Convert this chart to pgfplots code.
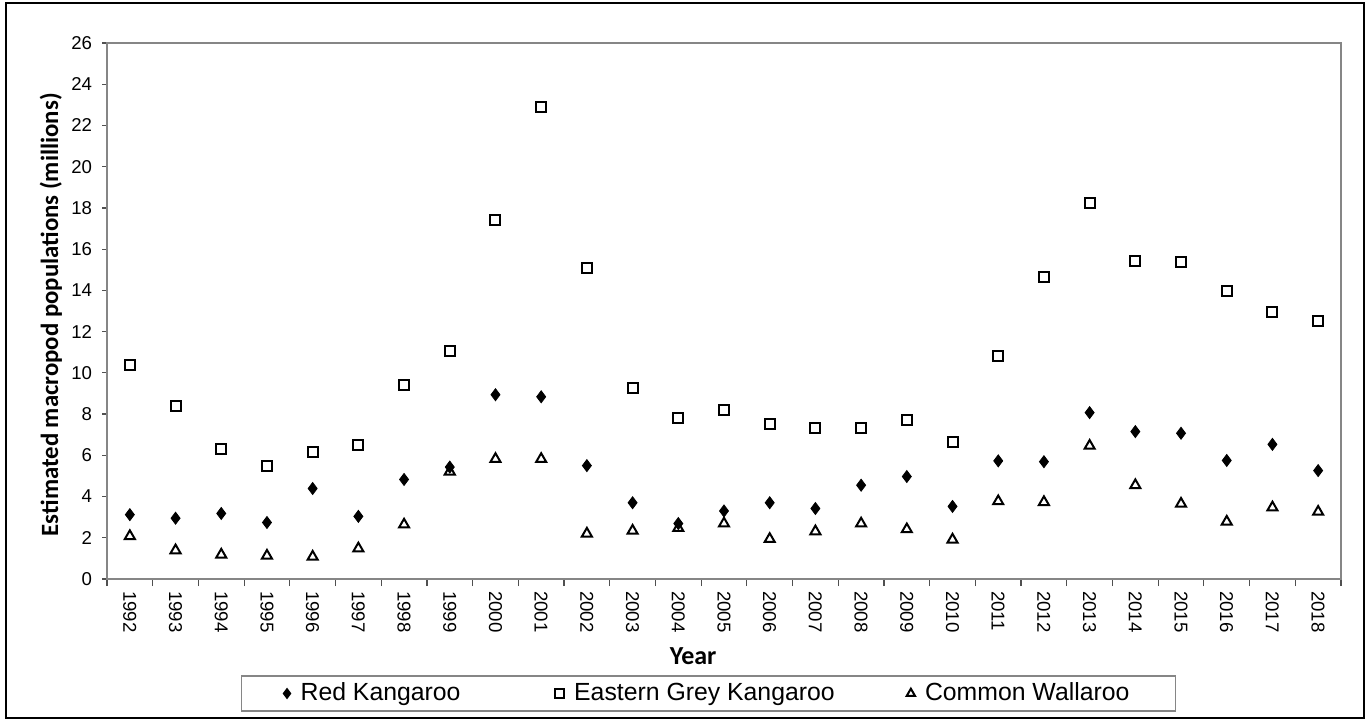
\documentclass[border=0pt]{standalone}
\usepackage{fontspec}
\setmainfont{Liberation Sans}
\newfontfamily\calibri{Carlito}
\usepackage{pgfplots}
\usepackage{pgfplotstable}
\pgfplotsset{compat=1.18}
\definecolor{axgray}{RGB}{134,134,134}

% year, red kangaroo, eastern grey kangaroo, common wallaroo (millions)
\pgfplotstableread{
year red  grey  wall
1992 3.12 10.38 2.08
1993 2.95 8.37  1.39
1994 3.18 6.30  1.18
1995 2.74 5.50  1.13
1996 4.39 6.15  1.08
1997 3.04 6.48  1.48
1998 4.83 9.43  2.64
1999 5.43 11.08 5.21
2000 8.94 17.41 5.82
2001 8.84 22.90 5.82
2002 5.50 15.09 2.20
2003 3.70 9.25  2.34
2004 2.69 7.80  2.47
2005 3.30 8.18  2.69
2006 3.70 7.50  1.94
2007 3.42 7.31  2.31
2008 4.55 7.31  2.69
2009 4.97 7.69  2.41
2010 3.52 6.63  1.91
2011 5.73 10.80 3.77
2012 5.69 14.67 3.73
2013 8.07 18.25 6.46
2014 7.15 15.42 4.55
2015 7.07 15.38 3.65
2016 5.75 13.99 2.78
2017 6.53 12.97 3.47
2018 5.26 12.50 3.26
}\pops

\begin{document}
\begin{tikzpicture}
\path[use as bounding box] (-53.5pt,-70.5pt) rectangle (631.5pt,289.5pt);
\draw[black, line width=0.8pt] (-50.5pt,-69.5pt) rectangle (628.5pt,288pt);
\begin{axis}[
  at={(0pt,0pt)}, anchor=south west,
  scale only axis, width=617pt, height=268pt,
  xmin=1991.5, xmax=2018.5, ymin=0, ymax=26,
  xtick={1992,...,2018},
  minor xtick={1991.5,1992.5,...,2018.5},
  ytick={0,2,...,26},
  tick align=outside,
  xtick pos=bottom, ytick pos=left,
  major tick length=2.5pt, minor tick length=3.5pt,
  major x tick style={draw=none},
  tick style={color=axgray!60!black, line width=0.6pt},
  axis line style={axgray, line width=0.75pt},
  /pgf/number format/assume math mode=true,
  /pgf/number format/1000 sep={},
  tick label style={font=\fontsize{9.3}{11}\selectfont},
  y tick label style={xshift=-1.5pt},
  x tick label style={rotate=-90, anchor=west},
  xlabel={\calibri\bfseries Year},
  x label style={at={(axis description cs:0.475,0)}, anchor=center, yshift=-38.5pt, font=\fontsize{13}{15}\selectfont},
  ylabel={\calibri\bfseries Estimated macropod populations (millions)},
  y label style={at={(axis description cs:-0.0455,0.493)}, anchor=center, font=\fontsize{12.4}{14}\selectfont},
  legend columns=3,
  legend image code/.code={\draw[#1, mark size=2.4pt] plot coordinates {(0pt,0pt)};},
  legend style={at={(axis description cs:0.4874,-0.2136)}, anchor=center,
    draw=axgray, line width=0.6pt, font=\fontsize{12.4}{14}\selectfont,
    inner xsep=21pt, inner ysep=1.5pt,
    /tikz/every odd column/.append style={column sep=3pt},
    /tikz/column 2/.append style={column sep=45pt},
    /tikz/column 4/.append style={column sep=34pt}},
]
\addplot[only marks, mark=diamond*, mark size=3pt, draw=black, fill=black] table[x=year, y=red] {\pops};
\addlegendentry{Red Kangaroo}
\addplot[only marks, mark=square, mark size=2.5pt, line width=1pt, draw=black] table[x=year, y=grey] {\pops};
\addlegendentry{Eastern Grey Kangaroo}
\addplot[only marks, mark=triangle, mark size=2.9pt, line width=1pt, draw=black] table[x=year, y=wall] {\pops};
\addlegendentry{Common Wallaroo}
\end{axis}
\end{tikzpicture}
\end{document}
